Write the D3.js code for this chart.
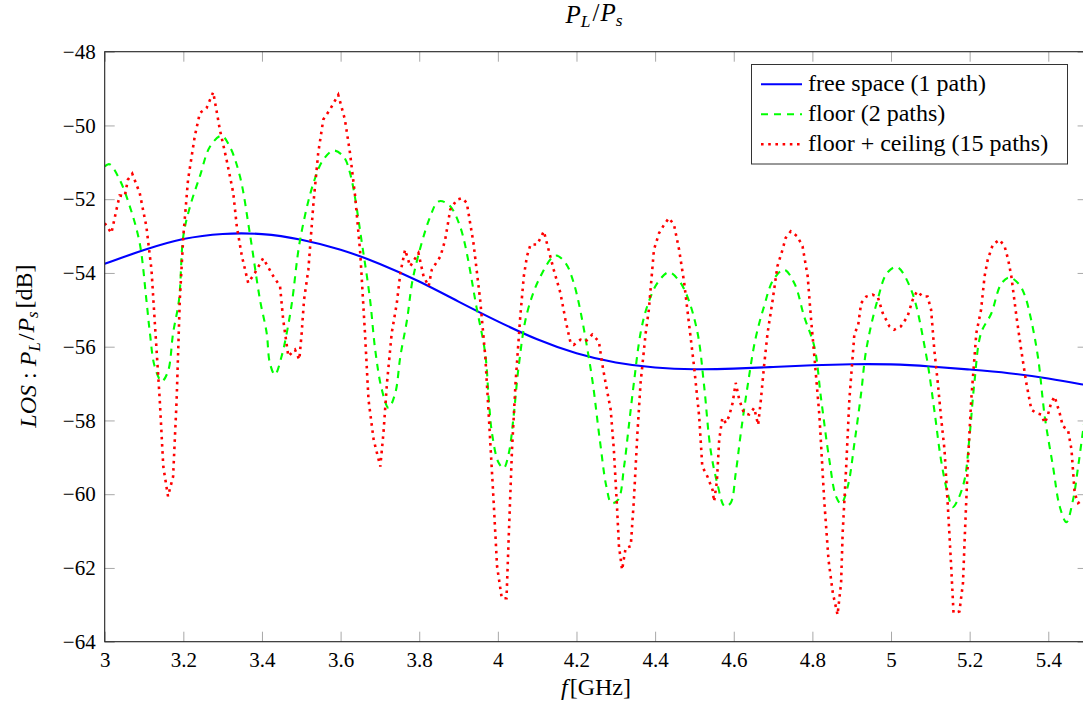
<!DOCTYPE html>
<html>
<head>
<meta charset="utf-8" />
<title>P_L/P_s</title>
<script src="https://cdnjs.cloudflare.com/ajax/libs/d3/7.8.5/d3.min.js"></script>
<style>
body { margin: 0; background: #fff; }
.tick line { stroke: #a8a8a8; stroke-width: 1; }
.domain { display: none; }
</style>
</head>
<body>
<svg id="chart" width="1083" height="709"></svg>
<script>
// x ticks and y ticks (GHz / dB)
const xTicks = [3, 3.2, 3.4, 3.6, 3.8, 4, 4.2, 4.4, 4.6, 4.8, 5, 5.2, 5.4];
const yTicks = [-64, -62, -60, -58, -56, -54, -52, -50, -48];

const seriesNames = ["free space (1 path)", "floor (2 paths)", "floor + ceiling (15 paths)"];

// free space (1 path)
const freeF = [3.0, 3.1, 3.2, 3.3, 3.4, 3.5, 3.6, 3.7, 3.8, 3.9, 4.0, 4.1, 4.2, 4.3, 4.4, 4.5, 4.6, 4.7, 4.8, 4.9, 5.0, 5.1, 5.2, 5.3, 5.4, 5.5];
const freeP = [-53.75, -53.37, -53.05, -52.92, -52.92, -53.08, -53.35, -53.74, -54.22, -54.78, -55.32, -55.82, -56.2, -56.45, -56.58, -56.62, -56.6, -56.55, -56.5, -56.47, -56.47, -56.53, -56.62, -56.71, -56.85, -57.05];

// floor (2 paths)
const floorF = [3.000, 3.012, 3.038, 3.064, 3.089, 3.106, 3.115, 3.127, 3.145, 3.161, 3.174, 3.189, 3.200, 3.217, 3.242, 3.268, 3.297, 3.318, 3.344, 3.369, 3.395, 3.412, 3.420, 3.433, 3.450, 3.463, 3.476, 3.497, 3.531, 3.556, 3.582, 3.607, 3.624, 3.658, 3.675, 3.688, 3.705, 3.722, 3.739, 3.752, 3.769, 3.785, 3.828, 3.849, 3.875, 3.904, 3.947, 3.968, 3.977, 3.985, 4.002, 4.015, 4.028, 4.040, 4.053, 4.074, 4.108, 4.146, 4.170, 4.193, 4.236, 4.259, 4.276, 4.289, 4.306, 4.321, 4.333, 4.346, 4.363, 4.380, 4.406, 4.435, 4.460, 4.482, 4.508, 4.524, 4.541, 4.558, 4.577, 4.592, 4.605, 4.618, 4.635, 4.655, 4.677, 4.700, 4.728, 4.755, 4.779, 4.805, 4.822, 4.843, 4.860, 4.873, 4.890, 4.907, 4.924, 4.937, 4.966, 4.990, 5.015, 5.051, 5.089, 5.110, 5.127, 5.144, 5.157, 5.170, 5.187, 5.199, 5.212, 5.229, 5.255, 5.280, 5.301, 5.325, 5.340, 5.357, 5.374, 5.391, 5.412, 5.429, 5.446, 5.463, 5.476, 5.490, 5.500];
const floorP = [-51.11, -51.05, -51.47, -52.20, -53.19, -54.73, -55.63, -56.53, -56.94, -56.67, -55.63, -54.73, -53.00, -52.20, -51.38, -50.57, -50.28, -50.57, -51.38, -52.92, -54.73, -55.63, -56.44, -56.76, -56.26, -55.63, -54.82, -53.10, -51.56, -50.93, -50.68, -50.84, -51.29, -53.46, -54.73, -56.08, -57.17, -57.66, -57.26, -56.26, -55.27, -54.09, -52.47, -52.06, -52.15, -52.74, -55.00, -56.20, -57.44, -58.34, -59.15, -59.29, -58.88, -57.89, -56.53, -55.10, -54.10, -53.53, -53.70, -54.27, -56.60, -58.50, -59.79, -60.24, -60.15, -59.25, -58.16, -56.98, -55.63, -54.90, -54.27, -53.98, -54.20, -54.64, -55.63, -57.00, -58.79, -59.70, -60.33, -60.24, -59.43, -58.34, -57.08, -55.80, -54.91, -54.20, -53.91, -54.30, -55.18, -56.00, -57.40, -59.06, -60.06, -60.26, -59.79, -58.61, -57.26, -56.08, -54.72, -54.00, -53.84, -54.45, -56.20, -57.71, -59.06, -59.97, -60.35, -60.15, -59.61, -58.52, -56.98, -55.63, -55.10, -54.30, -54.12, -54.30, -54.60, -55.30, -56.30, -57.89, -59.25, -60.33, -60.76, -60.15, -59.25, -58.16, -57.50];

// floor + ceiling (15 paths)
const ceilF = [3.000, 3.017, 3.030, 3.038, 3.051, 3.059, 3.070, 3.089, 3.106, 3.119, 3.127, 3.140, 3.149, 3.161, 3.174, 3.183, 3.191, 3.200, 3.212, 3.229, 3.242, 3.259, 3.276, 3.284, 3.293, 3.310, 3.327, 3.336, 3.349, 3.365, 3.382, 3.403, 3.429, 3.446, 3.454, 3.467, 3.484, 3.495, 3.501, 3.507, 3.518, 3.531, 3.543, 3.556, 3.573, 3.594, 3.611, 3.624, 3.637, 3.650, 3.662, 3.671, 3.684, 3.701, 3.709, 3.718, 3.730, 3.743, 3.752, 3.764, 3.777, 3.798, 3.811, 3.824, 3.832, 3.854, 3.866, 3.879, 3.896, 3.909, 3.921, 3.938, 3.955, 3.968, 3.977, 3.989, 3.998, 4.010, 4.022, 4.028, 4.036, 4.045, 4.057, 4.066, 4.074, 4.083, 4.100, 4.117, 4.129, 4.142, 4.159, 4.172, 4.185, 4.193, 4.210, 4.223, 4.240, 4.257, 4.265, 4.274, 4.287, 4.295, 4.303, 4.308, 4.316, 4.325, 4.338, 4.346, 4.355, 4.363, 4.376, 4.384, 4.397, 4.410, 4.423, 4.435, 4.448, 4.461, 4.474, 4.486, 4.499, 4.512, 4.520, 4.533, 4.546, 4.550, 4.557, 4.563, 4.571, 4.580, 4.588, 4.597, 4.605, 4.614, 4.626, 4.639, 4.652, 4.662, 4.669, 4.677, 4.686, 4.699, 4.711, 4.724, 4.732, 4.745, 4.762, 4.775, 4.788, 4.796, 4.805, 4.818, 4.830, 4.841, 4.852, 4.864, 4.873, 4.877, 4.886, 4.894, 4.907, 4.916, 4.924, 4.937, 4.953, 4.966, 4.979, 4.996, 5.008, 5.025, 5.042, 5.055, 5.066, 5.081, 5.093, 5.102, 5.110, 5.119, 5.127, 5.136, 5.146, 5.153, 5.159, 5.174, 5.183, 5.188, 5.195, 5.204, 5.217, 5.229, 5.238, 5.246, 5.259, 5.276, 5.289, 5.298, 5.306, 5.319, 5.331, 5.344, 5.357, 5.370, 5.382, 5.391, 5.398, 5.407, 5.416, 5.429, 5.437, 5.450, 5.459, 5.467, 5.476, 5.488, 5.500];
const ceilP = [-52.65, -52.92, -52.28, -51.90, -51.92, -51.47, -51.31, -51.83, -52.74, -53.91, -55.27, -57.44, -59.25, -60.06, -59.52, -57.44, -54.73, -53.00, -51.47, -50.30, -49.66, -49.53, -49.10, -49.57, -50.12, -50.93, -51.83, -52.74, -53.55, -54.27, -54.00, -53.60, -54.09, -54.36, -55.27, -56.26, -56.08, -56.35, -55.63, -54.73, -53.91, -52.10, -50.75, -49.84, -49.57, -49.17, -49.84, -50.75, -51.92, -53.46, -55.63, -57.44, -58.52, -59.25, -58.34, -56.98, -55.63, -54.82, -54.00, -53.37, -53.82, -53.46, -54.09, -54.36, -53.91, -53.55, -53.10, -52.28, -52.01, -51.97, -52.10, -53.19, -54.73, -56.26, -57.89, -60.15, -61.96, -62.82, -62.82, -61.05, -58.79, -56.98, -55.18, -54.09, -53.55, -53.23, -53.23, -52.87, -53.37, -53.91, -54.54, -55.27, -55.90, -55.95, -55.81, -55.86, -55.67, -55.86, -56.44, -56.98, -57.71, -58.79, -60.33, -61.41, -62.05, -61.46, -61.41, -60.15, -58.34, -56.98, -55.63, -55.00, -53.37, -52.92, -52.69, -52.51, -52.69, -53.37, -54.27, -55.36, -56.53, -57.89, -59.25, -59.52, -59.88, -60.20, -59.66, -58.52, -57.93, -58.07, -57.89, -57.53, -56.98, -57.44, -57.80, -57.84, -57.66, -58.12, -57.44, -56.53, -55.63, -54.73, -53.82, -53.37, -53.05, -52.87, -53.01, -53.28, -54.09, -55.18, -56.26, -57.89, -60.15, -61.78, -62.68, -63.27, -62.41, -61.05, -59.25, -57.44, -55.63, -55.45, -54.82, -54.64, -54.59, -54.64, -55.09, -55.45, -55.54, -55.45, -55.18, -54.73, -54.50, -54.64, -54.64, -55.00, -56.08, -56.98, -57.89, -58.79, -60.60, -61.96, -63.22, -63.18, -62.41, -61.05, -59.25, -57.44, -55.63, -55.00, -54.09, -53.64, -53.23, -53.10, -53.28, -53.64, -54.09, -55.18, -56.08, -56.98, -57.71, -57.80, -57.84, -58.07, -57.89, -57.53, -57.35, -57.80, -58.16, -58.25, -58.79, -59.97, -60.24, -60.15, -60.10];

const FONT = "'Liberation Serif', 'Times New Roman', serif";
const svg = d3.select("#chart");

// plot area (right edge falls just outside the picture)
const pLeft = 104.7, pRight = 1087.6, pTop = 51.7, pBottom = 641.7;

const x = d3.scaleLinear().domain([3, 5.5]).range([pLeft, pRight]);
const y = d3.scaleLinear().domain([-64, -48]).range([pBottom, pTop]);

svg.append("clipPath").attr("id", "plotclip")
	.append("rect")
	.attr("x", pLeft).attr("y", pTop)
	.attr("width", pRight - pLeft).attr("height", pBottom - pTop);

// axes: gray inner ticks on all four sides
svg.append("g")
	.attr("transform", `translate(0,${pBottom})`)
	.call(d3.axisBottom(x).tickValues(xTicks).tickSize(-10).tickPadding(10).tickFormat(d3.format("")))
	.call(g => g.attr("font-family", FONT).attr("font-size", 21));

svg.append("g")
	.attr("transform", `translate(0,${pTop})`)
	.call(d3.axisTop(x).tickValues(xTicks).tickSize(-10).tickFormat(""));

svg.append("g")
	.attr("transform", `translate(${pLeft},0)`)
	.call(d3.axisLeft(y).tickValues(yTicks).tickSize(-10).tickPadding(9).tickFormat(d3.format("")))
	.call(g => g.attr("font-family", FONT).attr("font-size", 21));

svg.append("g")
	.attr("transform", `translate(${pRight},0)`)
	.call(d3.axisRight(y).tickValues(yTicks).tickSize(-10).tickFormat(""));

// series lines
function drawSeries(fs, ps, color, dash, width, curve) {
	let pts = fs.map((f, i) => [f, ps[i]]);
	let line = d3.line()
		.x(d => x(d[0]))
		.y(d => y(d[1]))
		.curve(curve);
	svg.append("path")
		.datum(pts)
		.attr("clip-path", "url(#plotclip)")
		.attr("fill", "none")
		.attr("stroke", color)
		.attr("stroke-width", width)
		.attr("stroke-dasharray", dash)
		.attr("d", line);
}

drawSeries(freeF, freeP, "#0000ff", null, 2.1, d3.curveBasis);
drawSeries(floorF, floorP, "#00ff00", "7,6", 2.1, d3.curveCatmullRom.alpha(0.5));
drawSeries(ceilF, ceilP, "#ff0000", "2.6,4.6", 2.6, d3.curveLinear);

// frame
svg.append("rect")
	.attr("x", pLeft).attr("y", pTop)
	.attr("width", pRight - pLeft).attr("height", pBottom - pTop)
	.attr("fill", "none")
	.attr("stroke", "#222")
	.attr("stroke-width", 1.1);

// math-style label helper: parts are [text, italic, subscript]
function mathText(sel, parts) {
	let prevSub = false;
	parts.forEach(p => {
		let t = sel.append("tspan").text(p[0]);
		if (p[1]) t.attr("font-style", "italic");
		if (p[2]) t.attr("font-size", "0.7em");
		if (p[2] && !prevSub) t.attr("dy", "0.25em");
		if (!p[2] && prevSub) t.attr("dy", "-0.25em");
		if (p[3]) t.attr("dx", p[3]);
		prevSub = !!p[2];
	});
}

// title
let title = svg.append("text")
	.attr("x", 594).attr("y", 23)
	.attr("text-anchor", "middle")
	.attr("font-family", FONT)
	.attr("font-size", 25);
mathText(title, [["P", true], ["L", true, true], ["/", false, false, 2], ["P", true, false, 1], ["s", true, true]]);

// x label
let xl = svg.append("text")
	.attr("x", 596).attr("y", 695)
	.attr("text-anchor", "middle")
	.attr("font-family", FONT)
	.attr("font-size", 24);
mathText(xl, [["f", true], ["[GHz]", false, false, 2]]);

// y label
let yl = svg.append("text")
	.attr("transform", "translate(36,346) rotate(-90)")
	.attr("text-anchor", "middle")
	.attr("font-family", FONT)
	.attr("font-size", 24);
mathText(yl, [["LOS", true], [":", false, false, 6], ["P", true, false, 6], ["L", true, true], ["/", false, false, 2], ["P", true, false, 1], ["s", true, true], ["[dB]", false, false, 3]]);

// legend
const legColors = ["#0000ff", "#00ff00", "#ff0000"];
const legDash = [null, "7,6", "2.6,4.6"];
const legWidth = [2.1, 2.1, 2.6];
let leg = svg.append("g");
leg.append("rect")
	.attr("x", 751.5).attr("y", 64.5)
	.attr("width", 316).attr("height", 99.5)
	.attr("fill", "#fff")
	.attr("stroke", "#333")
	.attr("stroke-width", 1);
seriesNames.forEach((name, i) => {
	let cy = 84.3 + i * 30;
	leg.append("line")
		.attr("x1", 761).attr("x2", 802)
		.attr("y1", cy).attr("y2", cy)
		.attr("stroke", legColors[i])
		.attr("stroke-width", legWidth[i])
		.attr("stroke-dasharray", legDash[i]);
	leg.append("text")
		.attr("x", 808).attr("y", cy + 6.4)
		.attr("font-family", FONT)
		.attr("font-size", 24)
		.text(name);
});
</script>
</body>
</html>
